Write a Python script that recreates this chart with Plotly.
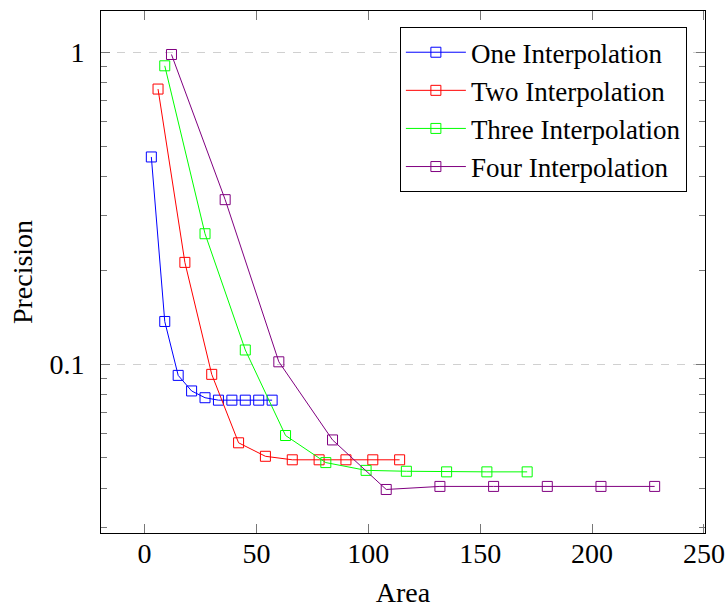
import plotly.graph_objects as go

# Data
x_one = [3, 9, 15, 21, 27, 33, 39, 45, 51, 57]
y_one = [0.462, 0.137, 0.092, 0.082, 0.078, 0.0766, 0.0766, 0.0766, 0.0766, 0.0766]
x_two = [6, 18, 30, 42, 54, 66, 78, 90, 102, 114]
y_two = [0.763, 0.212, 0.0927, 0.0559, 0.0506, 0.0493, 0.0493, 0.0493, 0.0493, 0.0493]
x_three = [9, 27, 45, 63, 81, 99, 117, 135, 153, 171]
y_three = [0.906, 0.262, 0.111, 0.059, 0.0483, 0.0456, 0.0453, 0.0451, 0.0451, 0.0451]
x_four = [12, 36, 60, 84, 108, 132, 156, 180, 204, 228]
y_four = [0.985, 0.337, 0.1017, 0.0571, 0.0396, 0.0405, 0.0405, 0.0405, 0.0405, 0.0405]

names = ["One Interpolation", "Two Interpolation", "Three Interpolation", "Four Interpolation"]
colors = ["#0000ff", "#ff0000", "#00ff00", "#800080"]

x_ticks = [0, 50, 100, 150, 200, 250]
y_ticks = [0.1, 1]
y_ticktext = ["0.1", "1"]
y_minor = [0.03, 0.04, 0.05, 0.06, 0.07, 0.08, 0.09, 0.2, 0.3, 0.4, 0.5, 0.6, 0.7, 0.8, 0.9]

FONT = '"Liberation Serif", "Times New Roman", Times, serif'
FS = 28

fig = go.Figure()
for xs, ys, nm, c in zip([x_one, x_two, x_three, x_four],
                         [y_one, y_two, y_three, y_four], names, colors):
    fig.add_trace(go.Scatter(
        x=xs, y=ys, name=nm, mode="lines+markers",
        line=dict(color=c, width=1),
        marker=dict(symbol="square-open", size=10, color=c, line=dict(width=1, color=c)),
    ))

fig.update_layout(
    width=727, height=609,
    margin=dict(l=101, r=22, t=11, b=76, autoexpand=False),
    paper_bgcolor="white", plot_bgcolor="white",
    font=dict(family=FONT, size=FS, color="black"),
    showlegend=True,
    legend=dict(
        x=0.97, y=0.969, xanchor="right", yanchor="top",
        bordercolor="black", borderwidth=1, bgcolor="white",
        font=dict(family=FONT, size=27),
        itemwidth=60, tracegroupgap=0,
    ),
)

fig.update_xaxes(
    range=[-19.5, 250.5], automargin=False,
    tickmode="array", tickvals=x_ticks,
    ticks="inside", ticklen=9, tickcolor="#777", tickwidth=1,
    showline=True, linecolor="black", linewidth=1, mirror="ticks",
    showgrid=False, zeroline=False,
    ticklabelstandoff=-5,
    title=dict(text="Area", font=dict(family=FONT, size=FS), standoff=14),
)

fig.update_yaxes(
    type="log", automargin=False,
    range=[-1.542, 0.133],
    tickmode="array", tickvals=y_ticks, ticktext=y_ticktext,
    ticks="inside", ticklen=9, tickcolor="#777", tickwidth=1,
    minor=dict(tickmode="array", tickvals=y_minor, ticks="inside", ticklen=6,
               tickcolor="#777", tickwidth=1, showgrid=False),
    showline=True, linecolor="black", linewidth=1, mirror="ticks",
    showgrid=True, gridcolor="#d0d0d0", gridwidth=1, griddash="8px,8px",
    zeroline=False,
    ticklabelstandoff=10,
    title=dict(text="Precision", font=dict(family=FONT, size=FS), standoff=8),
)

fig.write_html("out.html")
